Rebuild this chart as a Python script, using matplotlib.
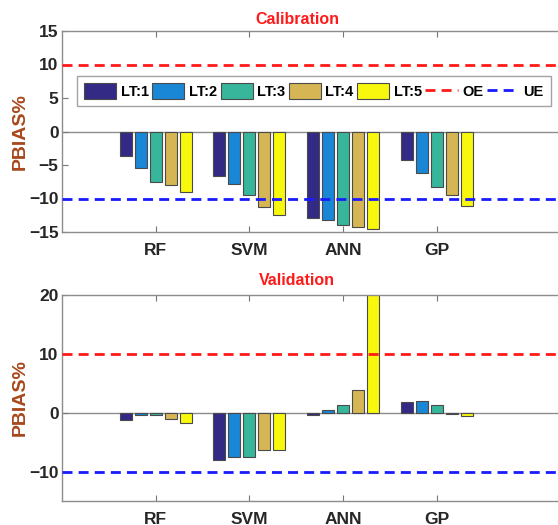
import numpy as np
import matplotlib
matplotlib.use('Agg')
from matplotlib import pyplot as plt
from matplotlib.patches import Patch
from matplotlib.lines import Line2D

plt.rcParams['font.family'] = ['Liberation Sans', 'DejaVu Sans']
plt.rcParams['font.weight'] = 'bold'

# data
models = ['RF', 'SVM', 'ANN', 'GP']
lead_times = ['LT:1', 'LT:2', 'LT:3', 'LT:4', 'LT:5']
calib = [
    [-3.6, -6.6, -12.9, -4.3],   # LT:1
    [-5.4, -7.9, -13.2, -6.2],   # LT:2
    [-7.5, -9.5, -13.9, -8.3],   # LT:3
    [-8.0, -11.2, -14.3, -9.5],  # LT:4
    [-9.0, -12.5, -14.6, -11.1], # LT:5
]
valid = [
    [-1.2, -8.1, -0.4, 1.75],
    [-0.4, -7.45, 0.5, 2.0],
    [-0.35, -7.55, 1.25, 1.35],
    [-1.0, -6.3, 3.9, -0.3],
    [-1.8, -6.3, 21.0, -0.55],
]
oe_level = 10
ue_level = -10

colors = ['#332a86', '#1a86d6', '#38b69b', '#d6b654', '#f8f80f']
dash = (0, (3.6, 2.2))

fig = plt.figure(figsize=(5.58, 5.25), dpi=100)
ax1 = fig.add_axes([62/558, 1-232/525, 562/558, 201/525])
ax2 = fig.add_axes([62/558, 1-501/525, 562/558, 206/525])

x = np.arange(1, len(models)+1)
width = 0.13
step = 0.16


def draw_panel(ax, data, ylim, yticks, title, tpad):
    ax.axhline(0, color='#8c8c8c', lw=1.0, zorder=1)
    for i, vals in enumerate(data):
        ax.bar(x + (i-2)*step, vals, width, color=colors[i],
               edgecolor='#4a4a4a', linewidth=0.8, zorder=2)
    ax.axhline(oe_level, color='#ff1a1a', lw=2, ls=dash, zorder=3)
    ax.axhline(ue_level, color='#1a1aff', lw=2, ls=dash, zorder=3)
    ax.set_xlim(0, 6)
    ax.set_ylim(*ylim)
    ax.set_yticks(yticks)
    ax.set_xticks(x)
    ax.set_xticklabels(models)
    ax.tick_params(axis='both', direction='in', length=4, width=0.8,
                   color='#777777', labelcolor='#262626', labelsize=12.5,
                   top=True)
    ax.tick_params(axis='x', pad=8)
    ax.tick_params(axis='y', pad=2.5)
    for s in ax.spines.values():
        s.set_color('#8c8c8c')
        s.set_linewidth(1.0)
    ax.set_ylabel('PBIAS%', color='#a8471c', fontsize=14, fontweight='bold')
    ax.yaxis.set_label_coords(-0.06, 0.5)
    ax.set_title(title, color='#ff1a1a', fontsize=11.5, fontweight='bold',
                 x=0.418, pad=tpad)


draw_panel(ax1, calib, (-15, 15), [-15, -10, -5, 0, 5, 10, 15], 'Calibration', 5)
draw_panel(ax2, valid, (-15, 20), [-10, 0, 10, 20], 'Validation', 7.5)

handles = [Patch(facecolor=c, edgecolor='#4a4a4a', linewidth=0.8) for c in colors]
handles += [Line2D([], [], color='#ff1a1a', lw=2, ls=dash),
            Line2D([], [], color='#1a1aff', lw=2, ls=dash)]
labels = lead_times + ['OE', 'UE']
leg = fig.legend(handles, labels, ncol=7, loc='upper left',
                 bbox_to_anchor=(77/558, 1-76/525), prop={'weight': 'bold', 'size': 10.5},
                 handlelength=2.2, handleheight=1.3, handletextpad=0.3,
                 columnspacing=0.25, borderpad=0.5, fancybox=False,
                 frameon=True, edgecolor='#8c8c8c', borderaxespad=0)
leg.get_frame().set_linewidth(1.0)

fig.savefig('out.png', dpi=100)
